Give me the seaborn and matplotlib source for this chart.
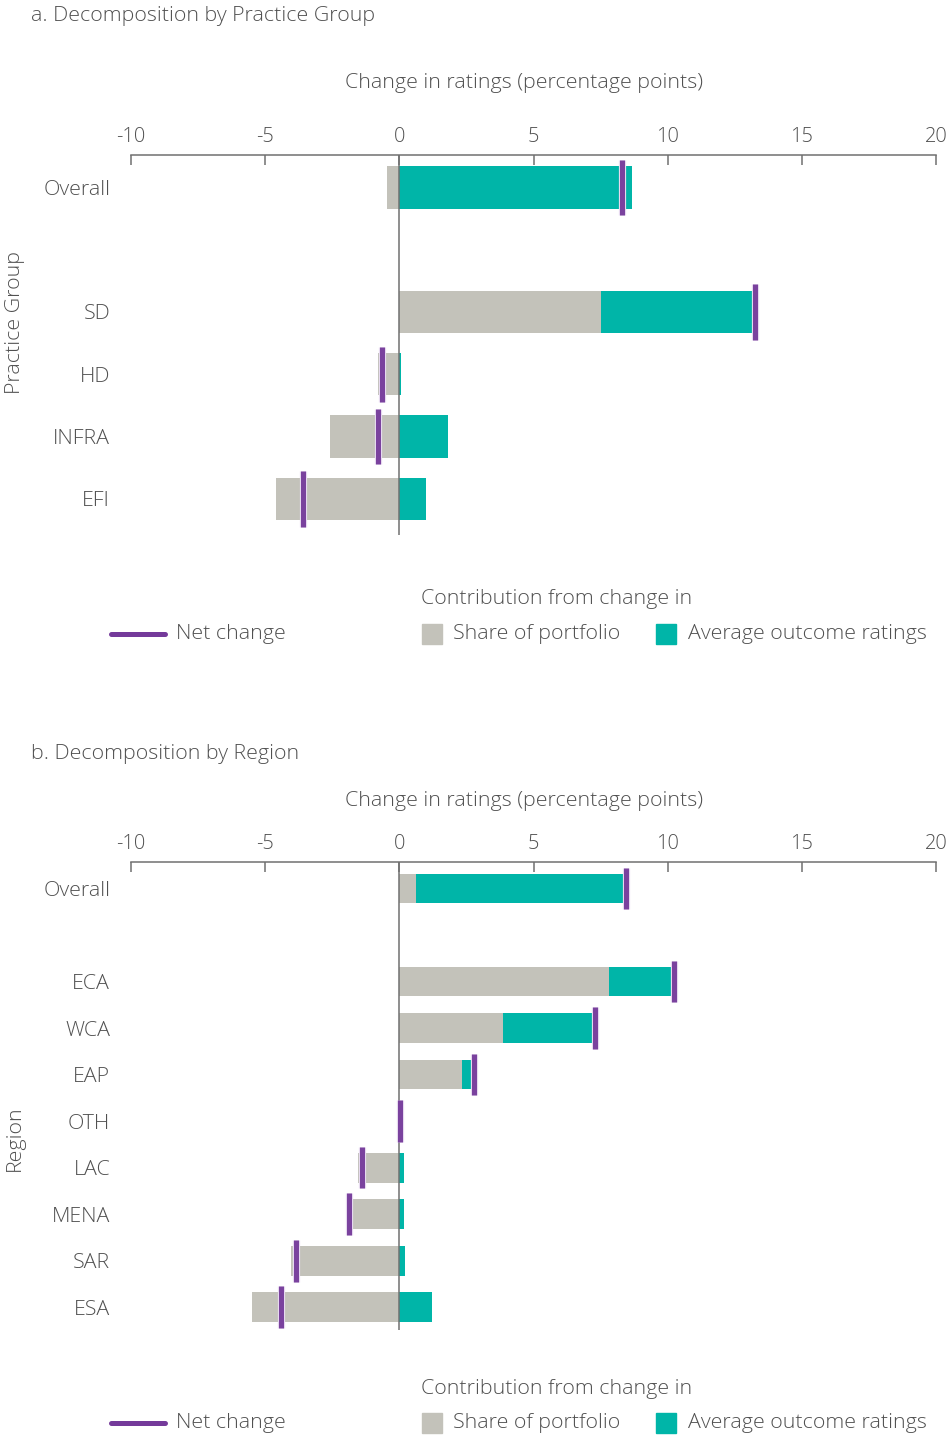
import matplotlib
matplotlib.use("Agg")
import matplotlib.pyplot as plt
import matplotlib.patheffects as pe
from matplotlib.lines import Line2D
from matplotlib.patches import Rectangle
import seaborn as sns
import pandas as pd

# Decomposition by practice group (percentage points)
groups = ["Overall", "SD", "HD", "INFRA", "EFI"]
group_share = [-0.45, 7.52, -0.79, -2.57, -4.59]
group_avg = [8.66, 5.68, 0.08, 1.83, 1.01]
group_net = [8.31, 13.26, -0.66, -0.80, -3.59]

# Decomposition by region (percentage points)
regions = ["Overall", "ECA", "WCA", "EAP", "OTH", "LAC", "MENA", "SAR", "ESA"]
region_share = [0.61, 7.81, 3.88, 2.34, 0.0, -1.55, -1.78, -4.03, -5.50]
region_avg = [7.74, 2.35, 3.34, 0.35, 0.0, 0.19, 0.16, 0.22, 1.20]
region_net = [8.44, 10.25, 7.30, 2.79, 0.03, -1.40, -1.86, -3.85, -4.40]

x_ticks = [-10, -5, 0, 5, 10, 15, 20]

GREY = "#c3c2ba"
TEAL = "#00b5a8"
PURPLE = "#743a9a"
TEXT = "#505050"
AXIS = "#707070"

sns.set_style("white")
plt.rcParams["font.family"] = ["Open Sans", "DejaVu Sans"]
plt.rcParams["font.weight"] = 300

W, H = 948, 1435
fig = plt.figure(figsize=(W / 100, H / 100), dpi=100)


def fx(px):
    return px / W


def fy(py):
    return 1 - py / H


FS = 15.4


def panel(top, bottom, cats, share, avg, net, ylim, width, marker_len):
    ax = fig.add_axes([fx(131), fy(bottom), fx(936) - fx(131), (bottom - top) / H])
    order = [cats[0], ""] + cats[1:]
    # teal segment stacks on a positive share, otherwise it starts at zero
    teal_end = [s + a if (s > 0 and a > 0) else a for s, a in zip(share, avg)]
    df = pd.DataFrame({"cat": cats, "share": share, "teal_end": teal_end})
    sns.barplot(data=df, x="teal_end", y="cat", order=order, orient="h",
                color=TEAL, saturation=1, width=width, errorbar=None,
                linewidth=0, ax=ax)
    sns.barplot(data=df, x="share", y="cat", order=order, orient="h",
                color=GREY, saturation=1, width=width, errorbar=None,
                linewidth=0, ax=ax)
    ax.axvline(0, color=AXIS, lw=1.1, zorder=3)
    pos = [order.index(c) for c in cats]
    for v, p in zip(net, pos):
        ax.plot([v], [p], marker="|", ms=marker_len, mew=3.6, color=PURPLE,
                zorder=4, alpha=0.95,
                path_effects=[pe.withStroke(linewidth=5.2, foreground="#e6d9ef")])
    ax.set_xlim(-10, 20)
    ax.set_ylim(*ylim)
    ax.set_yticks(pos)
    ax.set_yticklabels(cats)
    ax.set_xticks(x_ticks)
    ax.set_xticklabels([str(t) for t in x_ticks])
    ax.xaxis.tick_top()
    ax.tick_params(axis="x", direction="in", length=7.5, width=1.1, color=AXIS,
                   pad=6, labelsize=FS - 1, labelcolor=TEXT)
    ax.tick_params(axis="y", length=0, pad=15, labelsize=FS, labelcolor=TEXT)
    for side in ["left", "right", "bottom"]:
        ax.spines[side].set_visible(False)
    ax.spines["top"].set_color(AXIS)
    ax.spines["top"].set_linewidth(1.1)
    ax.set_xlabel("")
    ax.set_ylabel("")
    return ax


def legend(y_head, y_items):
    fig.text(fx(421), fy(y_head), "Contribution from change in", fontsize=FS,
             color=TEXT, va="center", ha="left")
    fig.add_artist(Line2D([fx(111), fx(165)], [fy(y_items), fy(y_items)],
                          color=PURPLE, lw=3.6, transform=fig.transFigure))
    fig.text(fx(176), fy(y_items), "Net change", fontsize=FS, color=TEXT,
             va="center", ha="left")
    fig.add_artist(Rectangle((fx(422), fy(y_items + 10)), fx(20), 20 / H,
                             color=GREY, transform=fig.transFigure))
    fig.text(fx(453), fy(y_items), "Share of portfolio", fontsize=FS,
             color=TEXT, va="center", ha="left")
    fig.add_artist(Rectangle((fx(656), fy(y_items + 10)), fx(20), 20 / H,
                             color=TEAL, transform=fig.transFigure))
    fig.text(fx(688), fy(y_items), "Average outcome ratings", fontsize=FS,
             color=TEXT, va="center", ha="left")


# Panel a
panel(155, 535, groups, group_share, group_avg, group_net, (5.58, -0.52), 0.68, 40)
fig.text(fx(31), fy(16), "a. Decomposition by Practice Group", fontsize=FS,
         color=TEXT, va="center", ha="left")
fig.text(fx(524), fy(83), "Change in ratings (percentage points)", fontsize=FS,
         color=TEXT, va="center", ha="center")
fig.text(fx(15), fy(323), "Practice Group", fontsize=FS, color=TEXT,
         rotation=90, va="center", ha="center")
legend(599, 634)

# Panel b
panel(862, 1330, regions, region_share, region_avg, region_net, (9.49, -0.57), 0.64, 30)
fig.text(fx(31), fy(754), "b. Decomposition by Region", fontsize=FS,
         color=TEXT, va="center", ha="left")
fig.text(fx(524), fy(801), "Change in ratings (percentage points)", fontsize=FS,
         color=TEXT, va="center", ha="center")
fig.text(fx(15), fy(1138), "Region", fontsize=FS, color=TEXT,
         rotation=90, va="center", ha="center")
legend(1389, 1423)

fig.savefig("out.png", dpi=100, facecolor="white")
